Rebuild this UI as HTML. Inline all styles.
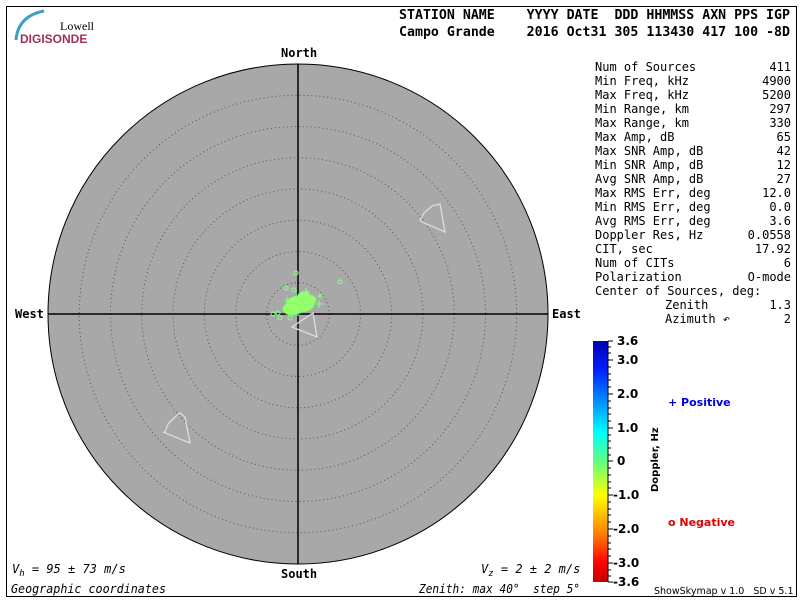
<!DOCTYPE html>
<html><head><meta charset="utf-8"><style>
body{margin:0;background:#fff;width:800px;height:600px;overflow:hidden}
svg text{font-family:"DejaVu Sans Mono","Liberation Mono",monospace;font-size:12px;fill:#000;white-space:pre}
svg text.s{font-family:"DejaVu Sans",sans-serif;font-weight:bold;font-size:12px}
</style></head><body>
<svg width="800" height="600" xmlns="http://www.w3.org/2000/svg" xml:space="preserve">
<rect x="6.5" y="6.5" width="790" height="590" fill="none" stroke="#000" stroke-width="1"/>
<path d="M16,40 Q18,16 44,11" stroke="#3aa0c8" stroke-width="3" fill="none"/>
<text x="60" y="30" style="font-family:'Liberation Serif',serif;font-size:12px">Lowell</text>
<text x="20" y="43" style="font-family:'Liberation Sans',sans-serif;font-size:12px;fill:#a0305a;font-weight:bold">DIGISONDE</text>
<text x="399" y="19" textLength="391" lengthAdjust="spacingAndGlyphs" style="font-weight:bold;font-size:13px">STATION NAME    YYYY DATE  DDD HHMMSS AXN PPS IGP</text>
<text x="399" y="36" textLength="391" lengthAdjust="spacingAndGlyphs" style="font-weight:bold;font-size:13px">Campo Grande    2016 Oct31 305 113430 417 100 -8D</text>
<circle cx="298" cy="314" r="250" fill="#a8a8a8" stroke="#000" stroke-width="1"/>
<g fill="none" stroke="#555" stroke-width="1" stroke-dasharray="1,3">
<circle cx="298" cy="314" r="31.25"/><circle cx="298" cy="314" r="62.5"/><circle cx="298" cy="314" r="93.75"/><circle cx="298" cy="314" r="125"/><circle cx="298" cy="314" r="156.25"/><circle cx="298" cy="314" r="187.5"/><circle cx="298" cy="314" r="218.75"/>
</g>
<line x1="48" y1="314" x2="548" y2="314" stroke="#000" stroke-width="1.5"/>
<line x1="298" y1="64" x2="298" y2="564" stroke="#000" stroke-width="1.5"/>
<text x="281" y="57" style="font-weight:bold">North</text>
<text x="281" y="578" style="font-weight:bold">South</text>
<text x="15" y="318" style="font-weight:bold">West</text>
<text x="552" y="318" style="font-weight:bold">East</text>
<g fill="none" stroke="#ddd" stroke-width="1.3">
<polygon points="420,220 424,213 432,206 440,204 445,232 422,222"/>
<polygon points="165,432 168,424 175,417 180,413 185,417 190,443 163,432"/>
<polygon points="292,327 317,337 313,313"/>
</g>
<g fill="none" stroke="#8f8" stroke-width="1">
<circle cx="296" cy="273" r="2"/><circle cx="340" cy="282" r="2"/><circle cx="286" cy="288" r="2"/><circle cx="294" cy="290" r="2"/>
<circle cx="273" cy="314" r="2"/><circle cx="278" cy="313" r="2"/><circle cx="280" cy="318" r="2"/><circle cx="290" cy="318" r="2"/>
</g>
<g fill="#9f6" stroke="#7f7">
<ellipse cx="300" cy="304" rx="14" ry="8"/>
<ellipse cx="292" cy="309" rx="9" ry="6"/>
<ellipse cx="308" cy="300" rx="8" ry="5"/>
<ellipse cx="304" cy="296" rx="6" ry="4"/>
</g>
<g stroke="#8f8" stroke-width="1">
<path d="M306,288v8M302,292h8M287,297v6M284,300h6M319,300v8M315,304h8M320,293v6M317,296h6M298,310v6M295,313h6"/>
</g>
<text x="12" y="573" style="font-style:italic">V<tspan dy="3" font-size="9">h</tspan><tspan dy="-3"> = 95 ± 73 m/s</tspan></text>
<text x="481" y="573" style="font-style:italic">V<tspan dy="3" font-size="9">z</tspan><tspan dy="-3"> = 2 ± 2 m/s</tspan></text>
<text x="11" y="593" textLength="155" lengthAdjust="spacingAndGlyphs" style="font-style:italic">Geographic coordinates</text>
<text x="419" y="593" textLength="161" lengthAdjust="spacingAndGlyphs" style="font-style:italic">Zenith: max 40°  step 5°</text>
<g>
<text x="595" y="71">Num of Sources</text><text x="791" y="71" text-anchor="end">411</text>
<text x="595" y="85">Min Freq, kHz</text><text x="791" y="85" text-anchor="end">4900</text>
<text x="595" y="99">Max Freq, kHz</text><text x="791" y="99" text-anchor="end">5200</text>
<text x="595" y="113">Min Range, km</text><text x="791" y="113" text-anchor="end">297</text>
<text x="595" y="127">Max Range, km</text><text x="791" y="127" text-anchor="end">330</text>
<text x="595" y="141">Max Amp, dB</text><text x="791" y="141" text-anchor="end">65</text>
<text x="595" y="155">Max SNR Amp, dB</text><text x="791" y="155" text-anchor="end">42</text>
<text x="595" y="169">Min SNR Amp, dB</text><text x="791" y="169" text-anchor="end">12</text>
<text x="595" y="183">Avg SNR Amp, dB</text><text x="791" y="183" text-anchor="end">27</text>
<text x="595" y="197">Max RMS Err, deg</text><text x="791" y="197" text-anchor="end">12.0</text>
<text x="595" y="211">Min RMS Err, deg</text><text x="791" y="211" text-anchor="end">0.0</text>
<text x="595" y="225">Avg RMS Err, deg</text><text x="791" y="225" text-anchor="end">3.6</text>
<text x="595" y="239">Doppler Res, Hz</text><text x="791" y="239" text-anchor="end">0.0558</text>
<text x="595" y="253">CIT, sec</text><text x="791" y="253" text-anchor="end">17.92</text>
<text x="595" y="267">Num of CITs</text><text x="791" y="267" text-anchor="end">6</text>
<text x="595" y="281">Polarization</text><text x="791" y="281" text-anchor="end">O-mode</text>
<text x="595" y="295">Center of Sources, deg:</text>
<text x="665" y="309">Zenith</text><text x="791" y="309" text-anchor="end">1.3</text>
<text x="665" y="323">Azimuth ↶</text><text x="791" y="323" text-anchor="end">2</text>
</g>
<defs><linearGradient id="cb" x1="0" y1="0" x2="0" y2="1">
<stop offset="0" stop-color="#0000b0"/><stop offset="0.12" stop-color="#0020ff"/><stop offset="0.38" stop-color="#00ffff"/><stop offset="0.5" stop-color="#60ff80"/><stop offset="0.64" stop-color="#ffff00"/><stop offset="0.8" stop-color="#ff8000"/><stop offset="0.92" stop-color="#ff0000"/><stop offset="1" stop-color="#c00000"/>
</linearGradient></defs>
<rect x="593" y="341" width="15" height="241" fill="url(#cb)"/>
<g stroke="#000" stroke-width="1">
<line x1="608" y1="341" x2="608" y2="582"/>
<path d="M608,341h5M608,360h5M608,394h5M608,428h5M608,461h5M608,495h5M608,529h5M608,563h5M608,582h5"/>
<path d="M608,347h3M608,353h3M608,367h3M608,374h3M608,380h3M608,387h3M608,401h3M608,408h3M608,414h3M608,421h3M608,435h3M608,441h3M608,448h3M608,455h3M608,468h3M608,475h3M608,482h3M608,488h3M608,502h3M608,509h3M608,515h3M608,522h3M608,536h3M608,543h3M608,549h3M608,556h3M608,570h3M608,576h3"/>
</g>
<text class="s" x="617" y="345">3.6</text><text class="s" x="617" y="364">3.0</text><text class="s" x="617" y="398">2.0</text><text class="s" x="617" y="432">1.0</text><text class="s" x="617" y="465">0</text>
<text class="s" x="613" y="499">-1.0</text><text class="s" x="613" y="533">-2.0</text><text class="s" x="613" y="567">-3.0</text><text class="s" x="613" y="586">-3.6</text>
<text class="s" transform="translate(658,492) rotate(-90)" style="font-size:10px">Doppler, Hz</text>
<text class="s" x="668" y="406" style="fill:#0000e0;font-size:11px">+ Positive</text>
<text class="s" x="668" y="526" style="fill:#e00000;font-size:11px">o Negative</text>
<text x="654" y="594" style="font-family:'DejaVu Sans',sans-serif;font-size:9.5px">ShowSkymap v 1.0   SD v 5.1</text>
</svg>
</body></html>
